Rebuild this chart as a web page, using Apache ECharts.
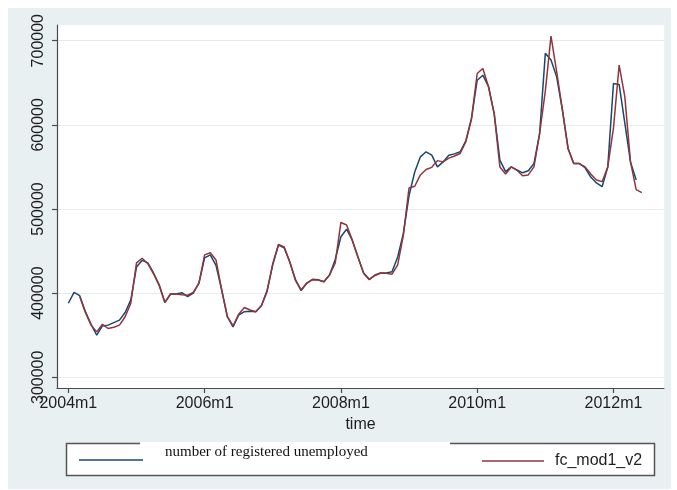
<!DOCTYPE html>
<html>
<head>
<meta charset="utf-8">
<script src="https://cdn.jsdelivr.net/npm/echarts@6/dist/echarts.min.js"></script>
<style>html,body{margin:0;padding:0;background:#fff}#c{width:677px;height:490px}</style>
</head>
<body>
<div id="c"></div>
<script>
// Monthly observations starting 2004m1
var startYear = 2004;
var unemployed = [
388000,401000,397000,378000,363000,350000,361000,362000,365000,368000,377000,392000,
431000,439000,436000,424000,410000,389000,399000,399000,400500,396000,400000,412000,
442000,445500,433000,404000,372000,360000,374000,378000,378500,378000,385000,403000,
434000,457000,454000,437000,416000,403000,412000,416500,416000,413500,421500,440000,
467000,476000,463000,443000,424000,416500,421500,424000,424000,425500,443000,471000,
516000,544000,562000,568000,564000,550000,556000,564000,565500,568000,581000,608000,
653000,659000,645500,613000,558000,544500,550000,546500,543000,545500,554000,590000,
685000,677000,657000,618000,572000,554000,554000,549000,538000,531000,526500,550000,
649000,648000,602000,556000,534500
];
var fcMod1 = [
null,null,396000,377000,362000,354000,363000,358000,359500,362000,372000,388000,
436000,441500,435000,423000,409000,389000,399000,399000,398000,397500,401000,412000,
445500,448000,439500,404000,372000,361000,375000,383000,380000,378000,385000,402000,
435000,458000,455000,437000,415000,404000,412000,416000,415500,413500,421500,436000,
484000,481000,463000,443000,423500,416000,421000,424000,423500,422500,433500,469000,
525000,527000,540500,547000,549500,557500,556000,560500,563000,566000,580000,607000,
661000,667000,645000,613000,550000,541500,550000,546000,539500,540500,550000,590000,
640000,705500,663000,618000,572000,554000,554000,550000,541500,534500,532500,550000,
596000,671000,633500,556000,523000,519500
];
var xTickLabels = ['2004m1','2006m1','2008m1','2010m1','2012m1'];
var yTickValues = [300000,400000,500000,600000,700000];
var seriesNames = ['number of registered unemployed','fc_mod1_v2'];

function monthLabel(i){ return (startYear + Math.floor(i/12)) + 'm' + ((i % 12 + 12) % 12 + 1); }
function pairs(arr){ return arr.map(function(v,i){ return [i, v]; }); }
var xTickIdx = xTickLabels.map(function(s){
  var p = s.split('m'); return (parseInt(p[0]) - startYear) * 12 + parseInt(p[1]) - 1;
});

var chart = echarts.init(document.getElementById('c'), null, {renderer:'canvas'});
var labelColor = '#1e1e1e';
var gridColor = '#e5ecef';
var axisColor = '#4a4a4a';
chart.setOption({
  animation: false,
  backgroundColor: '#ffffff',
  graphic: [
    {type:'rect', z:-10, shape:{x:8,y:8,width:663,height:481}, style:{fill:'#e9f0f2'}, silent:true},
    {type:'rect', z:1, shape:{x:66.5,y:443.5,width:588,height:32}, style:{fill:'#ffffff', stroke:'#555555', lineWidth:1.5}, silent:true},
    {type:'rect', z:2, shape:{x:140,y:442,width:310,height:12}, style:{fill:'#ffffff'}, silent:true}
  ],
  grid: {left:57, top:25, right:13, bottom:102, show:true, backgroundColor:'#ffffff', borderWidth:0, containLabel:false},
  xAxis: {
    type:'value', min:-2, max:104.9,
    name:'time', nameLocation:'middle', nameGap:29,
    nameTextStyle:{fontFamily:'Liberation Sans', fontSize:16, color:labelColor},
    axisLine:{show:true, onZero:false, lineStyle:{color:axisColor, width:1.2}},
    axisTick:{show:true, length:5, customValues:xTickIdx, lineStyle:{color:axisColor, width:1.2}},
    axisLabel:{customValues:xTickIdx, margin:8, fontFamily:'Liberation Sans', fontSize:16, color:labelColor,
      formatter:function(v){ return monthLabel(Math.round(v)); }},
    splitLine:{show:false}
  },
  yAxis: {
    type:'value', min:287285, max:718657,
    axisLine:{show:true, onZero:false, lineStyle:{color:axisColor, width:1.2}},
    axisTick:{show:true, length:5, customValues:yTickValues, lineStyle:{color:axisColor, width:1.2}},
    axisLabel:{customValues:yTickValues, rotate:90, margin:10, fontFamily:'Liberation Sans', fontSize:16, color:labelColor,
      formatter:function(v){ return String(Math.round(v)); }},
    splitLine:{show:true, lineStyle:{color:gridColor, width:1.2}}
  },
  legend: [
    {data:[seriesNames[0]], left:74, top:440, itemWidth:64, itemHeight:1.6, icon:'rect', itemGap:0,
     formatter:function(n){ return n + '\n '; },
     textStyle:{fontFamily:'Liberation Serif', fontSize:15, lineHeight:15, color:'#111', padding:[0,0,0,17]}, selectedMode:false, z:5},
    {data:[seriesNames[1]], left:477, top:448, itemWidth:62, itemHeight:1.6, icon:'rect', itemGap:0,
     textStyle:{fontFamily:'Liberation Sans', fontSize:16, color:labelColor, padding:[0,0,0,6]}, selectedMode:false, z:5}
  ],
  series: [
    {name:seriesNames[0], type:'line', data:pairs(unemployed), showSymbol:false, symbol:'none', z:3,
     lineStyle:{color:'#1a476f', width:1.5}, itemStyle:{color:'#1a476f'}},
    {name:seriesNames[1], type:'line', data:pairs(fcMod1), showSymbol:false, symbol:'none', z:4, connectNulls:false,
     lineStyle:{color:'#90353b', width:1.5}, itemStyle:{color:'#90353b'}}
  ]
});
</script>
</body>
</html>
